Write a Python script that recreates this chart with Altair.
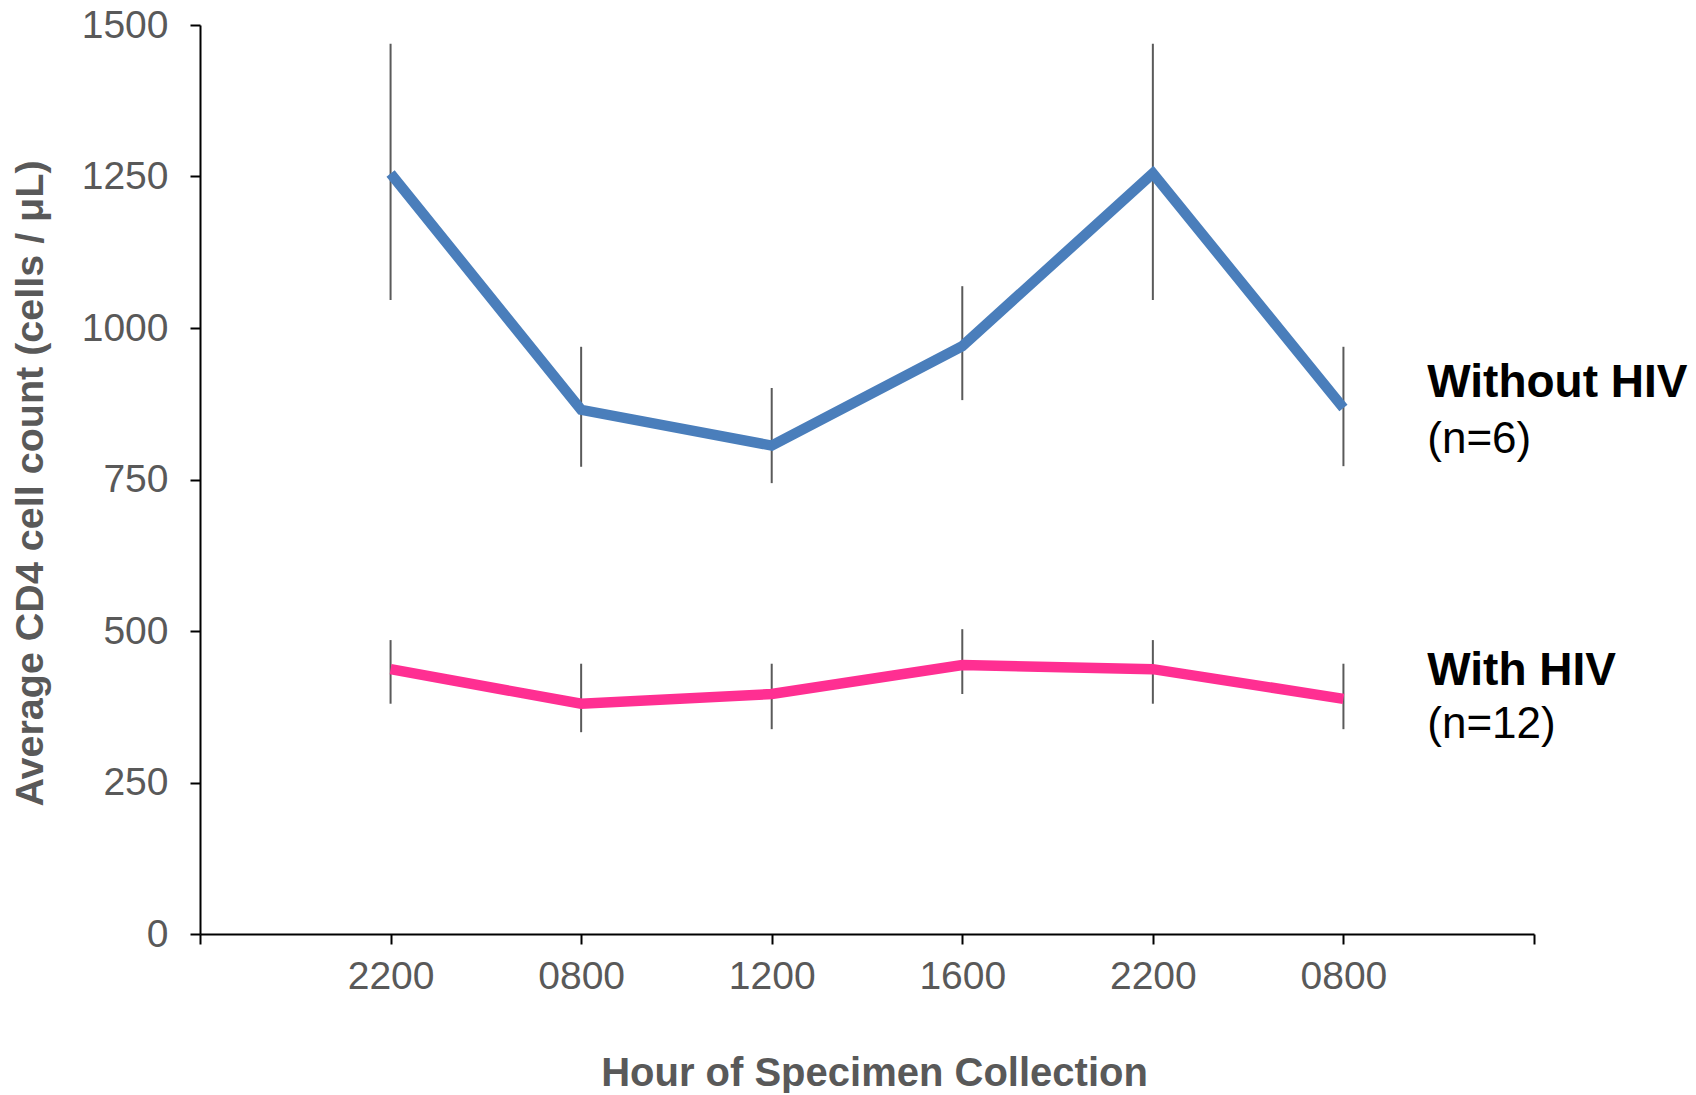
import altair as alt
import pandas as pd

# ---- data ----
hours = ["2200", "0800", "1200", "1600", "2200", "0800"]
positions = [1, 2, 3, 4, 5, 6]

without_mean = [1255, 865, 806, 970, 1255, 868]
without_low = [1046, 771, 744, 881, 1046, 772]
without_high = [1469, 969, 901, 1069, 1469, 969]

with_mean = [437, 380, 396, 444, 437, 388]
with_low = [380, 333, 338, 396, 380, 338]
with_high = [485, 446, 446, 503, 485, 446]

series_names = ["Without HIV", "With HIV"]
series_colors = ["#4A7EBB", "#FF2F92"]

label_texts = ["Without HIV", "(n=6)", "With HIV", "(n=12)"]
label_values = [909, 816, 434, 345]
label_bold = [True, False, True, False]
label_pos = [6.44, 6.44, 6.44, 6.44]

y_ticks = [0, 250, 500, 750, 1000, 1250, 1500]
x_ticks = [0, 1, 2, 3, 4, 5, 6, 7]

# ---- tables ----
rows = []
for name, m, lo, hi in [
    (series_names[0], without_mean, without_low, without_high),
    (series_names[1], with_mean, with_low, with_high),
]:
    for p, h, mv, l, u in zip(positions, hours, m, lo, hi):
        rows.append({"pos": p, "hour": h, "mean": mv, "low": l, "high": u, "series": name})
df = pd.DataFrame(rows)

labels_df = pd.DataFrame({
    "text": label_texts,
    "value": label_values,
    "bold": label_bold,
    "pos": label_pos,
})

tick_label_array = "[" + ",".join(["''"] + [f"'{h}'" for h in hours] + ["''"]) + "]"

FONT = "Liberation Sans"
GRAY = "#595959"

x_enc = alt.X(
    "pos:Q",
    scale=alt.Scale(domain=[0, 7], nice=False, zero=False),
    axis=alt.Axis(
        values=x_ticks,
        labelExpr=f"{tick_label_array}[datum.value]",
        title="Hour of Specimen Collection",
        titleFont=FONT,
        titleFontSize=40,
        titleFontWeight="bold",
        titleColor=GRAY,
        titleBaseline="alphabetic",
        titleAlign="center",
        titleX=674,
        titleY=151,
        labelFont=FONT,
        labelFontSize=39,
        labelColor=GRAY,
        labelPadding=13,
        tickSize=10,
        tickWidth=2,
        tickColor="#000000",
        domainColor="#000000",
        domainWidth=2,
        grid=False,
        labelFlush=False,
        labelOverlap=False,
    ),
)

y_scale = alt.Scale(domain=[0, 1500], nice=False, zero=True)
y_axis = alt.Axis(
    values=y_ticks,
    format="d",
    title="Average CD4 cell count (cells / μL)",
    titleFont=FONT,
    titleFontSize=39.5,
    titleFontWeight="bold",
    titleColor=GRAY,
    titleX=-170,
    titleY=458,
    titleAlign="center",
    titleBaseline="middle",
    labelFont=FONT,
    labelFontSize=39,
    labelColor=GRAY,
    labelPadding=22,
    tickSize=10,
    tickWidth=2,
    tickColor="#000000",
    domainColor="#000000",
    domainWidth=2,
    grid=False,
    labelFlush=False,
    labelOverlap=False,
)

color_enc = alt.Color(
    "series:N",
    scale=alt.Scale(domain=series_names, range=series_colors),
    legend=None,
)

base = alt.Chart(df)

errbars = base.mark_rule(color="#5A5A5A", strokeWidth=2).encode(
    x=x_enc,
    y=alt.Y("low:Q", scale=y_scale, axis=y_axis),
    y2="high:Q",
    detail="series:N",
)

lines = base.mark_line(strokeWidth=10.5, strokeCap="butt", strokeJoin="miter").encode(
    x=alt.X("pos:Q"),
    y=alt.Y("mean:Q"),
    color=color_enc,
    order="pos:Q",
)

lbl_base = alt.Chart(labels_df)
bold_labels = lbl_base.transform_filter("datum.bold").mark_text(
    align="left", baseline="middle", font=FONT, fontSize=46, fontWeight="bold", color="#000000"
).encode(x="pos:Q", y="value:Q", text="text:N")
plain_labels = lbl_base.transform_filter("!datum.bold").mark_text(
    align="left", baseline="middle", font=FONT, fontSize=44, fontWeight="normal", color="#000000"
).encode(x="pos:Q", y="value:Q", text="text:N")

chart = (
    alt.layer(errbars, lines, bold_labels, plain_labels)
    .properties(
        width=1334,
        height=909,
        background="#FFFFFF",
        autosize=alt.AutoSizeParams(type="none"),
        padding={"left": 192, "top": 17, "right": 154, "bottom": 159},
    )
    .configure_view(stroke=None)
)

chart.save("out.html", embed_options={"renderer": "svg", "actions": False})
